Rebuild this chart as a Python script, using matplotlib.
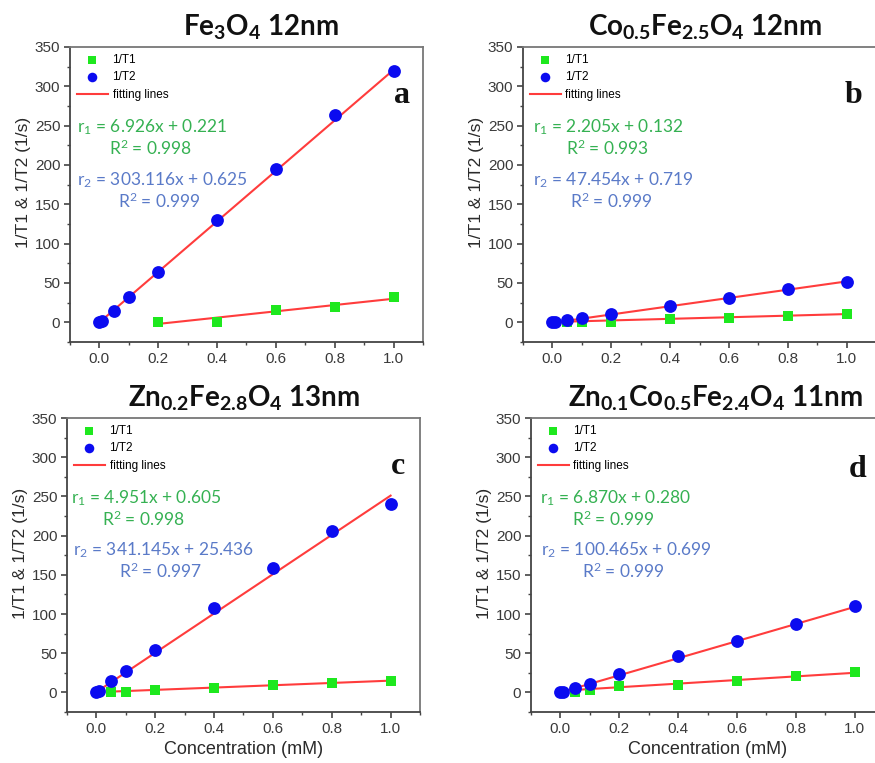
import matplotlib
matplotlib.use("Agg")
import matplotlib.pyplot as plt
from matplotlib.ticker import MultipleLocator

plt.rcParams['font.family'] = ['Liberation Sans', 'DejaVu Sans']
plt.rcParams['mathtext.default'] = 'regular'

# ---------------- data ----------------
titles = [r'Fe$_{3}$O$_{4}$ 12nm',
          r'Co$_{0.5}$Fe$_{2.5}$O$_{4}$ 12nm',
          r'Zn$_{0.2}$Fe$_{2.8}$O$_{4}$ 13nm',
          r'Zn$_{0.1}$Co$_{0.5}$Fe$_{2.4}$O$_{4}$ 11nm']
panel_letters = ['a', 'b', 'c', 'd']

a_t2_x = [0, 0.01, 0.05, 0.1, 0.2, 0.4, 0.6, 0.8, 1.0]
a_t2_y = [0, 2, 15, 32, 64, 130, 195, 263, 320]
a_t1_x = [0.2, 0.4, 0.6, 0.8, 1.0]
a_t1_y = [0, 0, 16, 19, 32]
a_t2_fit_x = [0, 1.0]
a_t2_fit_y = [0, 321]
a_t1_fit_x = [0.2, 1.0]
a_t1_fit_y = [-2, 30]

b_t2_x = [0, 0.01, 0.05, 0.1, 0.2, 0.4, 0.6, 0.8, 1.0]
b_t2_y = [0, 0, 3, 5, 11, 21, 31, 43, 51]
b_t1_x = [0.05, 0.1, 0.2, 0.4, 0.6, 0.8, 1.0]
b_t1_y = [0, 1, 1, 4, 6, 8, 10]
b_t2_fit_x = [0.01, 1.0]
b_t2_fit_y = [0, 52]
b_t1_fit_x = [0.01, 1.0]
b_t1_fit_y = [0.5, 10.5]

c_t2_x = [0, 0.01, 0.05, 0.1, 0.2, 0.4, 0.6, 0.8, 1.0]
c_t2_y = [0, 2, 14, 27, 54, 108, 159, 206, 240]
c_t1_x = [0.05, 0.1, 0.2, 0.4, 0.6, 0.8, 1.0]
c_t1_y = [0.5, 1, 3, 6, 9, 12, 14]
c_t2_fit_x = [0.01, 1.0]
c_t2_fit_y = [3, 251]
c_t1_fit_x = [0.05, 1.0]
c_t1_fit_y = [1, 15]

d_t2_x = [0, 0.01, 0.05, 0.1, 0.2, 0.4, 0.6, 0.8, 1.0]
d_t2_y = [0, 0, 6, 11, 23, 46, 65, 87, 110]
d_t1_x = [0.05, 0.1, 0.2, 0.4, 0.6, 0.8, 1.0]
d_t1_y = [1, 3, 8, 9, 14, 21, 26]
d_t2_fit_x = [0.0, 1.0]
d_t2_fit_y = [0, 109]
d_t1_fit_x = [0.0, 1.0]
d_t1_fit_y = [2, 25]

r1_texts = ['r$_1$ = 6.926x + 0.221', 'r$_1$ = 2.205x + 0.132',
            'r$_1$ = 4.951x + 0.605', 'r$_1$ = 6.870x + 0.280']
r1_R2 = ['R$^2$ = 0.998', 'R$^2$ = 0.993', 'R$^2$ = 0.998', 'R$^2$ = 0.999']
r2_texts = ['r$_2$ = 303.116x + 0.625', 'r$_2$ = 47.454x + 0.719',
            'r$_2$ = 341.145x + 25.436', 'r$_2$ = 100.465x + 0.699']
r2_R2 = ['R$^2$ = 0.999', 'R$^2$ = 0.999', 'R$^2$ = 0.997', 'R$^2$ = 0.999']

x_ticks = [0.0, 0.2, 0.4, 0.6, 0.8, 1.0]
y_ticks = [0, 50, 100, 150, 200, 250, 300, 350]

panels = [
    (a_t1_x, a_t1_y, a_t2_x, a_t2_y, a_t1_fit_x, a_t1_fit_y, a_t2_fit_x, a_t2_fit_y),
    (b_t1_x, b_t1_y, b_t2_x, b_t2_y, b_t1_fit_x, b_t1_fit_y, b_t2_fit_x, b_t2_fit_y),
    (c_t1_x, c_t1_y, c_t2_x, c_t2_y, c_t1_fit_x, c_t1_fit_y, c_t2_fit_x, c_t2_fit_y),
    (d_t1_x, d_t1_y, d_t2_x, d_t2_y, d_t1_fit_x, d_t1_fit_y, d_t2_fit_x, d_t2_fit_y),
]

# ---------------- layout ----------------
W, H = 875, 763
fig = plt.figure(figsize=(W / 100, H / 100), dpi=100)

# (left px, top px, right px, bottom px)
boxes = [(70, 47, 423, 342), (523, 47, 876, 342),
         (67, 418, 420, 712), (531, 418, 884, 712)]
title_x_offset = [14, 6, 1, 8]
# text positions (axes fraction)
r1_pos = [(0.02, 0.11), (0.028, 0.122), (0.011, 0.099), (0.025, 0.116)]
r2_pos = [(0.02, 0.136), (0.028, 0.133), (0.017, 0.147), (0.028, 0.144)]
letter_pos = [(0.94, 0.81), (0.935, 0.81), (0.938, 0.81), (0.926, 0.80)]

green_txt = '#35b152'
blue_txt = '#5a7ac8'
spine_c = '#444444'

for i, (box, data) in enumerate(zip(boxes, panels)):
    l, t, r, b = box
    ax = fig.add_axes([l / W, 1 - b / H, (r - l) / W, (b - t) / H])
    t1x, t1y, t2x, t2y, f1x, f1y, f2x, f2y = data
    ax.plot(f2x, f2y, color='#ff3c3c', lw=1.5, zorder=2, label='fitting lines')
    ax.plot(f1x, f1y, color='#ff3c3c', lw=1.5, zorder=2)
    ax.scatter(t1x, t1y, marker='s', s=55, color='#1ee81e', zorder=3, label='1/T1', linewidths=0)
    ax.scatter(t2x, t2y, marker='o', s=85, color='#0b0bf0', zorder=4, label='1/T2', linewidths=0)

    ax.set_xlim(-0.1, 1.1)
    ax.set_ylim(-25, 350)
    ax.set_xticks(x_ticks)
    ax.set_yticks(y_ticks)
    ax.xaxis.set_minor_locator(MultipleLocator(0.1))
    ax.yaxis.set_minor_locator(MultipleLocator(25))
    ax.tick_params(axis='both', which='major', direction='out', length=4, width=1.2,
                   colors=spine_c, labelsize=11, labelcolor='#3a3a3a', pad=3)
    ax.tick_params(axis='both', which='minor', direction='out', length=2.5, width=1.0,
                   colors=spine_c)
    ax.set_xticklabels([f'{v:.1f}' for v in x_ticks])
    for s in ax.spines.values():
        s.set_linewidth(1.3)
    ax.spines['left'].set_color(spine_c)
    ax.spines['bottom'].set_color(spine_c)
    ax.spines['top'].set_color('#777777')
    ax.spines['right'].set_color('#777777')

    ax.set_ylabel('1/T1 & 1/T2 (1/s)', fontsize=12.5, color='#2a2a2a')
    ax.yaxis.set_label_coords(-0.11, 0.54)
    if i >= 2:
        ax.set_xlabel('Concentration (mM)', fontsize=13, color='#2a2a2a', labelpad=4)

    h, lab = ax.get_legend_handles_labels()
    order = [1, 2, 0]
    ax.legend([h[k] for k in order], [lab[k] for k in order], loc='upper left',
              frameon=False, fontsize=8.5, handlelength=2.6, handletextpad=0.4,
              borderaxespad=0.2, labelspacing=0.45, markerscale=0.75,
              bbox_to_anchor=(0.0, 1.0))

    kw = dict(transform=ax.transAxes, fontsize=12.5, family=['Lato', 'DejaVu Sans'],
              va='center', ha='left')
    ax.text(r1_pos[i][0], 0.729, r1_texts[i], color=green_txt, **kw)
    ax.text(r1_pos[i][1], 0.655, r1_R2[i], color=green_txt, **kw)
    ax.text(r2_pos[i][0], 0.55, r2_texts[i], color=blue_txt, **kw)
    ax.text(r2_pos[i][1], 0.477, r2_R2[i], color=blue_txt, **kw)

    ax.text(letter_pos[i][0], letter_pos[i][1], panel_letters[i], transform=ax.transAxes,
            fontsize=23, fontweight='bold', family=['Liberation Serif', 'DejaVu Serif'],
            ha='center', va='baseline', color='#111111')

    cx = ((l + r) / 2 + title_x_offset[i]) / W
    ty = 1 - (t - 20) / H
    fig.text(cx, ty, titles[i], ha='center', va='center', fontsize=20,
             fontweight='bold', family=['Lato', 'DejaVu Sans'], color='#111111')

fig.savefig('out.png', dpi=100)
